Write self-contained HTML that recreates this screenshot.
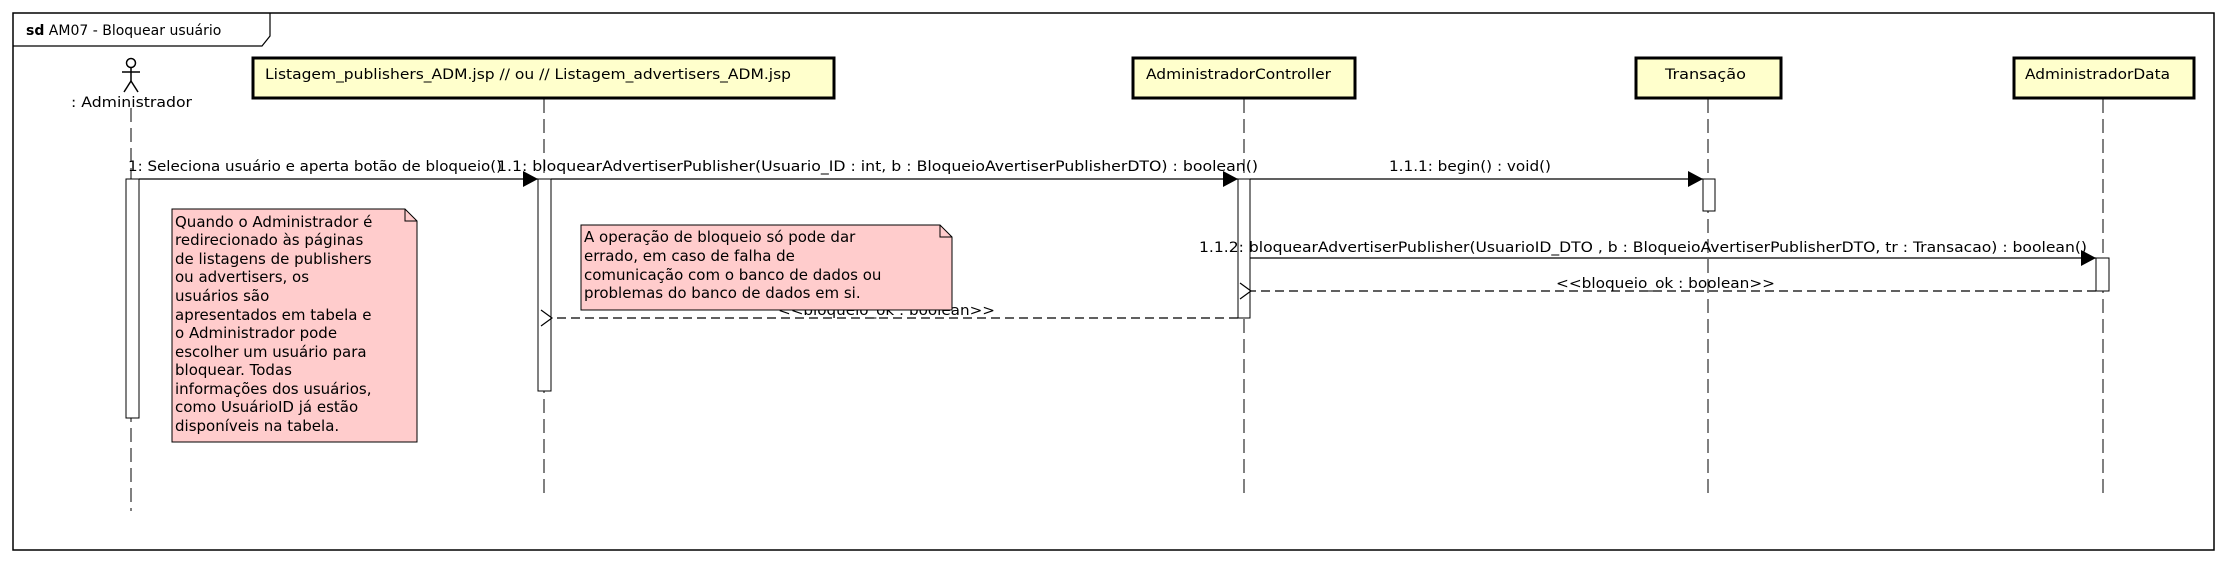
<!DOCTYPE html>
<html><head><meta charset="utf-8"><style>
html,body{margin:0;padding:0;background:#fff}
svg{display:block}
text{font-family:"DejaVu Sans","Liberation Sans",sans-serif;font-size:14px;fill:#000}
.n{font-size:15px}
</style></head><body>
<svg width="2228" height="564" viewBox="0 0 2228 564" xmlns="http://www.w3.org/2000/svg">
<defs>
<marker id="fa" markerWidth="16" markerHeight="16" refX="15" refY="8" orient="auto" markerUnits="userSpaceOnUse"><path d="M0,0 L15,8 L0,16 Z" fill="#000"/></marker>
<marker id="oa" markerWidth="16" markerHeight="18" refX="1" refY="9" orient="auto" markerUnits="userSpaceOnUse"><path d="M12,1 L1,9 L12,17" fill="none" stroke="#000" stroke-width="1.2"/></marker>
</defs>
<rect x="13" y="13" width="2201" height="537" fill="#fff" stroke="#000" stroke-width="1.5"/>
<path d="M13,46 L262,46 L270,36 L270,13" fill="none" stroke="#000" stroke-width="1.2"/>
<text x="26" y="35" font-size="15"><tspan font-weight="bold">sd</tspan> AM07 - Bloquear usuário</text>

<g stroke="#000" stroke-width="1" stroke-dasharray="14,6">
<line x1="131" y1="108" x2="131" y2="511"/>
<line x1="544" y1="99" x2="544" y2="498"/>
<line x1="1244" y1="99" x2="1244" y2="498"/>
<line x1="1708" y1="99" x2="1708" y2="498"/>
<line x1="2103" y1="99" x2="2103" y2="498"/>
</g>

<g stroke="#000" stroke-width="1.5" fill="none">
<circle cx="131" cy="63" r="4.5"/>
<line x1="131" y1="67" x2="131" y2="81"/>
<line x1="122" y1="72" x2="140" y2="72"/>
<line x1="131" y1="81" x2="124" y2="92"/>
<line x1="131" y1="81" x2="138" y2="92"/>
</g>
<text x="71" y="107" textLength="121" lengthAdjust="spacingAndGlyphs">: Administrador</text>

<g fill="#ffffcc" stroke="#000" stroke-width="3">
<rect x="253" y="58" width="581" height="40"/>
<rect x="1133" y="58" width="222" height="40"/>
<rect x="1636" y="58" width="145" height="40"/>
<rect x="2014" y="58" width="180" height="40"/>
</g>
<text x="265" y="79" textLength="526" lengthAdjust="spacingAndGlyphs">Listagem_publishers_ADM.jsp // ou // Listagem_advertisers_ADM.jsp</text>
<text x="1146" y="79" textLength="185" lengthAdjust="spacingAndGlyphs">AdministradorController</text>
<text x="1665" y="79" textLength="81" lengthAdjust="spacingAndGlyphs">Transação</text>
<text x="2025" y="79" textLength="145" lengthAdjust="spacingAndGlyphs">AdministradorData</text>

<g fill="#fff" stroke="#000" stroke-width="1">
<rect x="126" y="179" width="13" height="239"/>
<rect x="538" y="179" width="13" height="212"/>
<rect x="1238" y="179" width="12" height="139"/>
<rect x="1703" y="179" width="12" height="32"/>
<rect x="2096" y="258" width="13" height="33"/>
</g>

<g stroke="#000" stroke-width="1.2" fill="none">
<line x1="139" y1="179" x2="538" y2="179" marker-end="url(#fa)"/>
<line x1="551" y1="179" x2="1238" y2="179" marker-end="url(#fa)"/>
<line x1="1250" y1="179" x2="1703" y2="179" marker-end="url(#fa)"/>
<line x1="1250" y1="258" x2="2096" y2="258" marker-end="url(#fa)"/>
<line x1="2096" y1="291" x2="1251" y2="291" stroke-dasharray="9,5" marker-end="url(#oa)"/>
<line x1="1238" y1="318" x2="552" y2="318" stroke-dasharray="9,5" marker-end="url(#oa)"/>
</g>
<text x="128" y="171" textLength="374" lengthAdjust="spacingAndGlyphs">1: Seleciona usuário e aperta botão de bloqueio()</text>
<text x="497" y="171" textLength="761" lengthAdjust="spacingAndGlyphs">1.1: bloquearAdvertiserPublisher(Usuario_ID : int, b : BloqueioAvertiserPublisherDTO) : boolean()</text>
<text x="1389" y="171" textLength="162" lengthAdjust="spacingAndGlyphs">1.1.1: begin() : void()</text>
<text x="1199" y="252" textLength="888" lengthAdjust="spacingAndGlyphs">1.1.2: bloquearAdvertiserPublisher(UsuarioID_DTO , b : BloqueioAvertiserPublisherDTO, tr : Transacao) : boolean()</text>
<text x="1556" y="288" textLength="219" lengthAdjust="spacingAndGlyphs">&lt;&lt;bloqueio_ok : boolean&gt;&gt;</text>
<text x="778" y="315" textLength="217" lengthAdjust="spacingAndGlyphs">&lt;&lt;bloqueio_ok : boolean&gt;&gt;</text>

<g fill="#ffcccc" stroke="#000" stroke-width="1">
<path d="M172,209 L405,209 L417,221 L417,442 L172,442 Z"/>
<path d="M405,209 L405,221 L417,221" fill="none"/>
<path d="M581,225 L940,225 L952,237 L952,310 L581,310 Z"/>
<path d="M940,225 L940,237 L952,237" fill="none"/>
</g>
<g class="n">
<text class="n" x="175" y="227">Quando o Administrador é</text>
<text class="n" x="175" y="245">redirecionado às páginas</text>
<text class="n" x="175" y="264">de listagens de publishers</text>
<text class="n" x="175" y="282">ou advertisers, os</text>
<text class="n" x="175" y="301">usuários são</text>
<text class="n" x="175" y="320">apresentados em tabela e</text>
<text class="n" x="175" y="338">o Administrador pode</text>
<text class="n" x="175" y="357">escolher um usuário para</text>
<text class="n" x="175" y="375">bloquear. Todas</text>
<text class="n" x="175" y="394">informações dos usuários,</text>
<text class="n" x="175" y="412">como UsuárioID já estão</text>
<text class="n" x="175" y="431">disponíveis na tabela.</text>
<text class="n" x="584" y="242">A operação de bloqueio só pode dar</text>
<text class="n" x="584" y="261">errado, em caso de falha de</text>
<text class="n" x="584" y="280">comunicação com o banco de dados ou</text>
<text class="n" x="584" y="298">problemas do banco de dados em si.</text>
</g>
</svg>
</body></html>
